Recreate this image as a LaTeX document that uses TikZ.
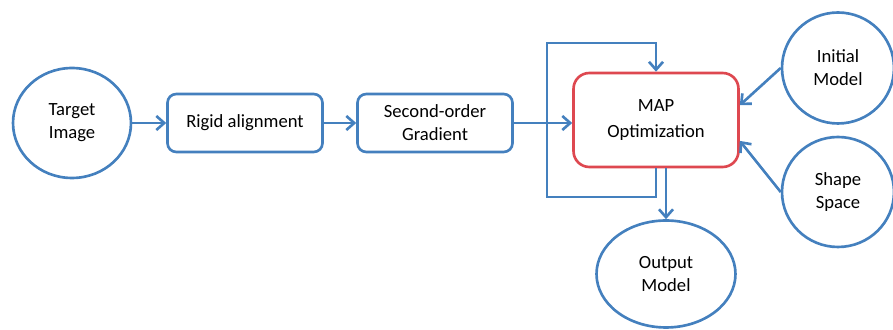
\documentclass[tikz,border=0pt]{standalone}
\usepackage{fontspec}
\setmainfont{Carlito}
\usetikzlibrary{shapes.geometric, positioning, arrows.meta}

\definecolor{flowblue}{RGB}{68,128,190}
\definecolor{mapred}{RGB}{222,72,80}

\begin{document}
\begin{tikzpicture}[x=0.02cm, y=-0.02cm, >={Straight Barb[length=4.5pt, width=8pt]}, line width=1.5pt,
    font=\fontsize{10.6}{13}\selectfont,
    blob/.style={ellipse, draw=flowblue, align=center, inner sep=0pt},
    stagebox/.style={rectangle, rounded corners=5pt, draw=flowblue, align=center,
                     minimum width=3.1cm, minimum height=1.16cm},
    flow/.style={->, draw=flowblue}]
        \useasboundingbox (0,0) rectangle (893,330);

        \node[blob, minimum width=2.36cm, minimum height=2.2cm] (target) at (72,123) {Target\\Image};
        \node[stagebox] (rigid) at (245,123) {Rigid alignment};
        \node[stagebox] (grad) at (435,123) {Second-order\\Gradient};
        \node[stagebox, draw=mapred, rounded corners=9pt, minimum width=3.3cm,
              minimum height=1.88cm] (map) at (656,120) {MAP\\[2pt]Optimization};
        \node[blob, minimum width=2.24cm, minimum height=2.22cm] (init) at (838,68) {Initial\\Model};
        \node[blob, minimum width=2.24cm, minimum height=2.2cm] (shape) at (838,192) {Shape\\Space};
        \node[blob, minimum width=2.78cm, minimum height=2.14cm] (output) at (666,274) {Output\\Model};

        % corners of the feedback loop
        \coordinate (loopfoot) at (547,197);
        \coordinate (looptop) at (547,43);

        \draw[flow] (target) -- (rigid);
        \draw[flow] (rigid) -- (grad);
        \draw[flow] (grad.east) -- (grad.east -| map.west);
        \draw[flow] (map.south) |- (loopfoot) -- (looptop) -| (map.north);
        \draw[flow] (output.north |- map.south) -- (output);
        \draw[flow] (init.west) -- (map.10);
        \draw[flow] (shape.west) -- (map.-14);
        %   \draw[flow] (init) -- (map);
\end{tikzpicture}
\end{document}
